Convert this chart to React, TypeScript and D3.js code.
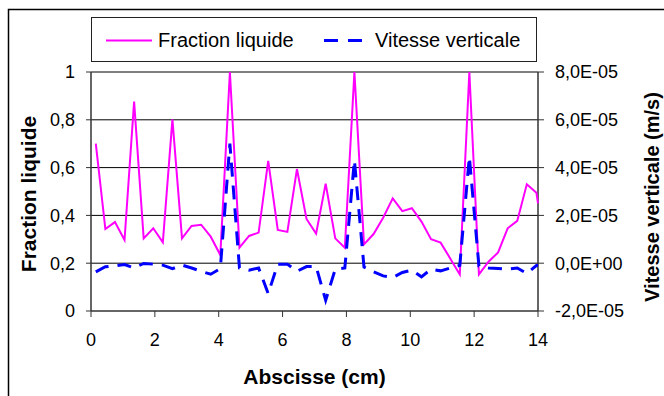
import React from "react";
import * as d3 from "d3";

const abscisse: number[] = [
  0.15, 0.45, 0.75, 1.05, 1.35, 1.65, 1.95, 2.25, 2.55, 2.85, 3.15, 3.45, 3.75, 4.05, 4.35,
  4.65, 4.95, 5.25, 5.55, 5.85, 6.15, 6.45, 6.75, 7.05, 7.35, 7.65, 7.95, 8.25, 8.55, 8.85,
  9.15, 9.45, 9.75, 10.05, 10.35, 10.65, 10.95, 11.25, 11.55, 11.85, 12.15, 12.45, 12.75,
  13.05, 13.35, 13.65, 13.95, 14.0,
];
const fractionLiquide: number[] = [
  0.70, 0.343, 0.372, 0.297, 0.876, 0.304, 0.346, 0.287, 0.802, 0.304, 0.356, 0.361, 0.311, 0.234, 1.0,
  0.265, 0.314, 0.328, 0.628, 0.339, 0.331, 0.594, 0.385, 0.324, 0.533, 0.304, 0.265, 1.0, 0.279, 0.322,
  0.39, 0.471, 0.418, 0.43, 0.374, 0.30, 0.286, 0.22, 0.153, 1.0, 0.153, 0.206, 0.245,
  0.346, 0.377, 0.53, 0.495, 0.45,
];
const vitesseVerticale: number[] = [
  -0.36e-5, -0.15e-5, -0.11e-5, -0.06e-5, -0.2e-5, -0.01e-5, -0.04e-5, -0.08e-5, -0.23e-5, -0.08e-5, -0.2e-5, -0.34e-5, -0.46e-5, -0.23e-5, 5.0e-5,
  -0.2e-5, -0.29e-5, -0.2e-5, -1.27e-5, -0.04e-5, -0.04e-5, -0.34e-5, -0.14e-5, -0.14e-5, -1.55e-5, -0.25e-5, -0.2e-5, 4.31e-5, -0.16e-5, -0.36e-5,
  -0.53e-5, -0.6e-5, -0.39e-5, -0.29e-5, -0.57e-5, -0.25e-5, -0.32e-5, -0.2e-5, -0.09e-5, 4.45e-5, -0.12e-5, -0.2e-5, -0.22e-5,
  -0.25e-5, -0.2e-5, -0.43e-5, -0.1e-5, -0.1e-5,
];
const xTicks: number[] = [0, 2, 4, 6, 8, 10, 12, 14];
const yLeftTicks: number[] = [0, 0.2, 0.4, 0.6, 0.8, 1];
const yLeftLabels: string[] = ["0", "0,2", "0,4", "0,6", "0,8", "1"];
const yRightTicks: number[] = [-2e-5, 0, 2e-5, 4e-5, 6e-5, 8e-5];
const yRightLabels: string[] = ["-2,0E-05", "0,0E+00", "2,0E-05", "4,0E-05", "6,0E-05", "8,0E-05"];
const seriesNames: string[] = ["Fraction liquide", "Vitesse verticale"];
const axisTitles: string[] = ["Abscisse (cm)", "Fraction liquide", "Vitesse verticale (m/s)"];

const FONT = "'Liberation Sans', Arial, sans-serif";

export default function App() {
  const L = 91, R = 538, T = 72, B = 311;
  const x = d3.scaleLinear().domain([0, 14]).range([L, R]);
  const yL = d3.scaleLinear().domain([0, 1]).range([B, T]);
  const yR = d3.scaleLinear().domain([-2e-5, 8e-5]).range([B, T]);

  const pinkLine = d3.line<number>().x((_, i) => x(abscisse[i])).y((d) => yL(d));
  const blueLine = d3.line<number>().x((_, i) => x(abscisse[i])).y((d) => yR(d));

  return (
    <svg width={664} height={396} style={{ position: "absolute", left: 0, top: 0, background: "#fff" }}>
      <rect x={8.5} y={9.5} width={700} height={500} fill="#fff" stroke="#000" strokeWidth={1.5} />
      {yLeftTicks.filter((t) => t > 0).map((t) => (
        <line key={"g" + t} x1={L} x2={R} y1={yL(t)} y2={yL(t)} stroke="#000" strokeWidth={1} />
      ))}
      <line x1={L} x2={L} y1={T} y2={B} stroke="#333" strokeWidth={1.5} />
      {yLeftTicks.map((t, i) => (
        <g key={"yl" + t}>
          <line x1={L - 5} x2={L} y1={yL(t)} y2={yL(t)} stroke="#333" strokeWidth={1} />
          <text x={L - 16} y={yL(t)} dy="0.36em" textAnchor="end" fontFamily={FONT} fontSize={18}>
            {yLeftLabels[i]}
          </text>
        </g>
      ))}
      <line x1={R} x2={R} y1={T} y2={B} stroke="#333" strokeWidth={1.5} />
      {yRightTicks.map((t, i) => (
        <g key={"yr" + t}>
          <line x1={R} x2={R + 6} y1={yR(t)} y2={yR(t)} stroke="#333" strokeWidth={1} />
          <text x={R + 17} y={yR(t)} dy="0.36em" textAnchor="start" fontFamily={FONT} fontSize={18}>
            {yRightLabels[i]}
          </text>
        </g>
      ))}
      <line x1={L} x2={R} y1={B} y2={B} stroke="#333" strokeWidth={1.5} />
      {xTicks.map((t) => (
        <g key={"x" + t}>
          <line x1={x(t)} x2={x(t)} y1={B} y2={B + 6} stroke="#333" strokeWidth={1} />
          <text x={x(t)} y={340} dy="0.36em" textAnchor="middle" fontFamily={FONT} fontSize={18}>
            {String(t)}
          </text>
        </g>
      ))}
      <path d={pinkLine(fractionLiquide) || ""} fill="none" stroke="#FF00FF" strokeWidth={2} />
      <path d={blueLine(vitesseVerticale) || ""} fill="none" stroke="#0000FF" strokeWidth={3} strokeDasharray="14,9" />
      <text x={(L + R) / 2} y={376} dy="0.36em" textAnchor="middle" fontFamily={FONT} fontSize={21} fontWeight="bold">
        {axisTitles[0]}
      </text>
      <text transform={`translate(28,194) rotate(-90)`} dy="0.36em" textAnchor="middle" fontFamily={FONT} fontSize={21} fontWeight="bold">
        {axisTitles[1]}
      </text>
      <text transform={`translate(652,197) rotate(-90)`} dy="0.36em" textAnchor="middle" fontFamily={FONT} fontSize={20} fontWeight="bold">
        {axisTitles[2]}
      </text>
      <rect x={91.5} y={17.5} width={445} height={44} fill="#fff" stroke="#222" strokeWidth={1} />
      <line x1={106} x2={152} y1={40.5} y2={40.5} stroke="#FF00FF" strokeWidth={2} />
      <text x={158} y={40} dy="0.36em" fontFamily={FONT} fontSize={20}>{seriesNames[0]}</text>
      <line x1={324} x2={363} y1={40.5} y2={40.5} stroke="#0000FF" strokeWidth={3} strokeDasharray="14,10" />
      <text x={375} y={40} dy="0.36em" fontFamily={FONT} fontSize={20}>{seriesNames[1]}</text>
    </svg>
  );
}
